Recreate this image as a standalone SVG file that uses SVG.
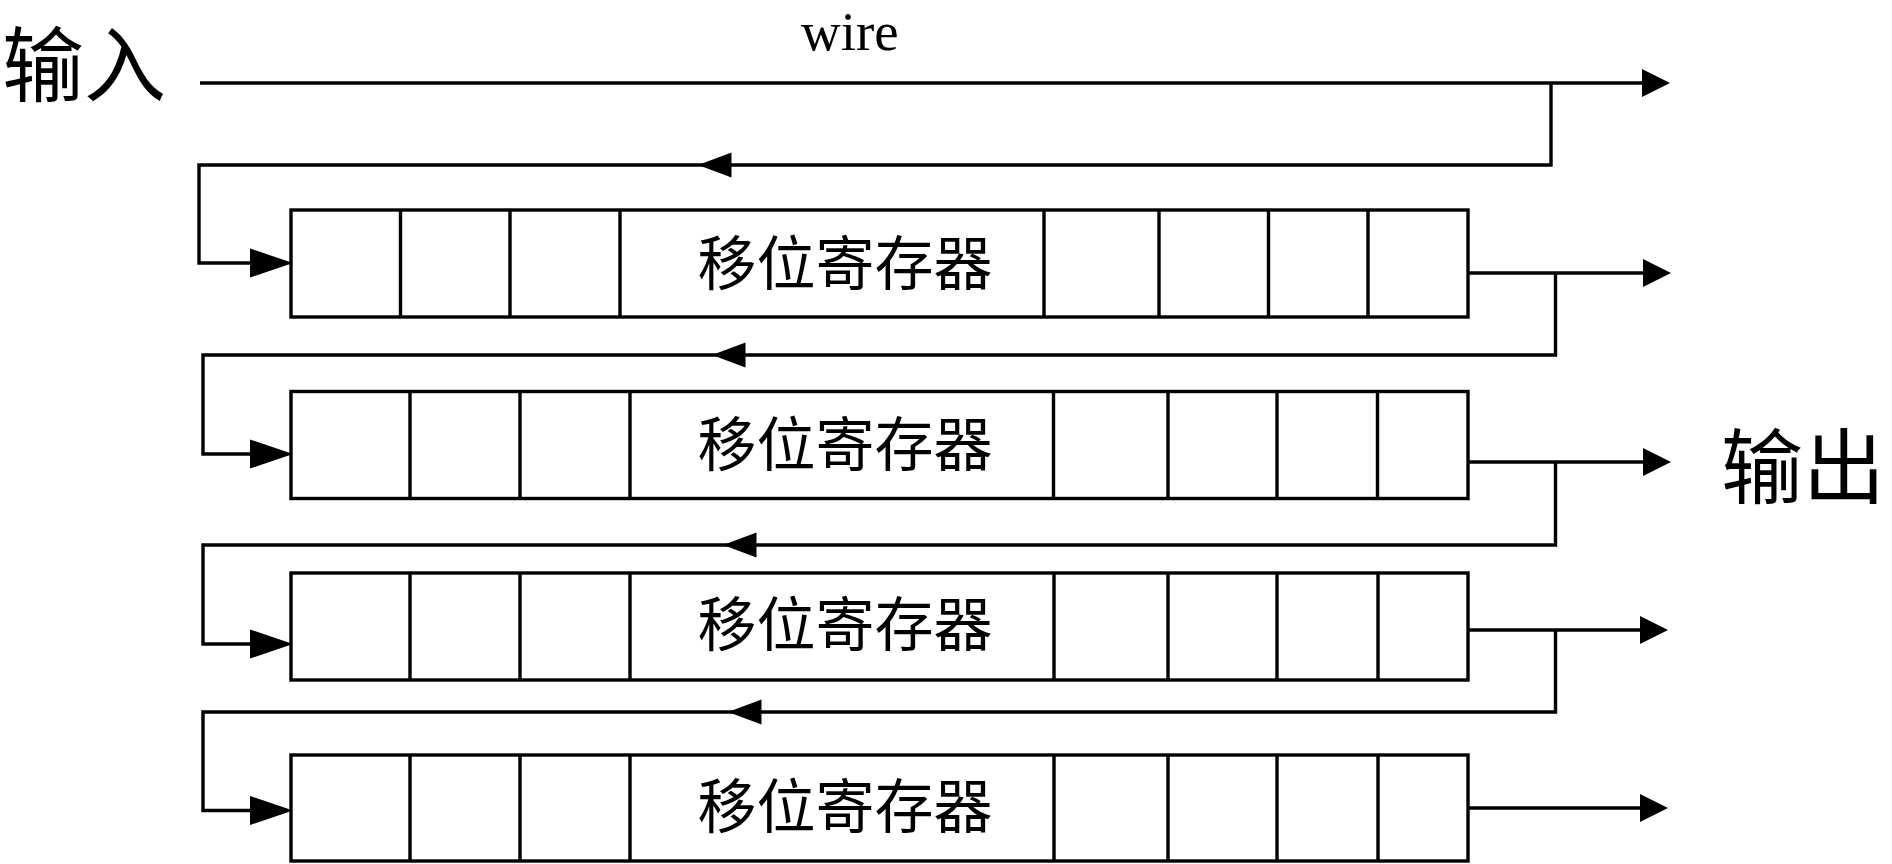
<svg xmlns="http://www.w3.org/2000/svg" xmlns:xlink="http://www.w3.org/1999/xlink" width="1892" height="864" viewBox="0 0 1892 864">
<style>
.box{fill:#fff;stroke:#000;stroke-width:3.4}
.div{stroke:#000;stroke-width:3.4}
.wire{fill:none;stroke:#000;stroke-width:3.4;stroke-linejoin:miter;stroke-linecap:butt}
.ah{fill:#000;stroke:none}
.cjk{font-family:"Noto Sans CJK SC","Noto Sans CJK JP",sans-serif;fill:#000}
.reg{font-size:59px;text-anchor:middle}
.io{font-size:82px}
.lat{font-family:"Liberation Serif","Times New Roman",serif;font-size:55px;fill:#000}
</style>
<defs>
<polygon id="ahOut" class="ah" points="0,0 -28,-14 -28,14"/>
<polygon id="ahIn" class="ah" points="0,0 -43,-14.5 -43,14.5"/>
<polygon id="ahFb" class="ah" points="0,0 33.5,-12.5 33.5,12.5"/>
</defs>
<rect width="1892" height="864" fill="#fff"/>

<g id="label-input"><text class="cjk io" x="2" y="95">输入</text></g>
<g id="label-wire"><text class="lat" x="801" y="49.5">wire</text></g>
<g id="label-output"><text class="cjk io" x="1721" y="497">输出</text></g>

<g id="reg1">
<rect class="box" x="291" y="210" width="1177" height="107"/>
<path class="div" d="M400.5 210V317M510 210V317M620 210V317M1044 210V317M1159 210V317M1268.5 210V317M1368 210V317"/>
<text class="cjk reg" x="845" y="285">移位寄存器</text>
</g>
<g id="reg2">
<rect class="box" x="291" y="391.5" width="1177" height="107"/>
<path class="div" d="M410 391.5V498.5M520 391.5V498.5M630 391.5V498.5M1053.5 391.5V498.5M1168 391.5V498.5M1277 391.5V498.5M1377.5 391.5V498.5"/>
<text class="cjk reg" x="845" y="466">移位寄存器</text>
</g>
<g id="reg3">
<rect class="box" x="291" y="573" width="1177" height="107"/>
<path class="div" d="M410 573V680M520 573V680M630 573V680M1054 573V680M1168 573V680M1277 573V680M1378 573V680"/>
<text class="cjk reg" x="845" y="646">移位寄存器</text>
</g>
<g id="reg4">
<rect class="box" x="291" y="755" width="1177" height="106"/>
<path class="div" d="M410 755V861M520 755V861M630 755V861M1054 755V861M1168 755V861M1277 755V861M1378 755V861"/>
<text class="cjk reg" x="845" y="828">移位寄存器</text>
</g>

<g id="connectors">
<path class="wire" d="M200 83H1650"/>
<use href="#ahOut" x="1670" y="83"/>
<path class="wire" d="M1551 83V165H199V263H260"/>
<use href="#ahFb" x="698" y="165"/>
<use href="#ahIn" x="293" y="263"/>

<path class="wire" d="M1468 273H1650"/>
<use href="#ahOut" x="1671" y="273"/>
<path class="wire" d="M1555.5 273V355H203V454H260"/>
<use href="#ahFb" x="712" y="355"/>
<use href="#ahIn" x="293" y="454"/>

<path class="wire" d="M1468 462H1650"/>
<use href="#ahOut" x="1671" y="462"/>
<path class="wire" d="M1555.5 462V545H203V644H260"/>
<use href="#ahFb" x="723" y="545"/>
<use href="#ahIn" x="293" y="644"/>

<path class="wire" d="M1468 630H1650"/>
<use href="#ahOut" x="1668" y="630"/>
<path class="wire" d="M1555.5 630V712H203V810.5H260"/>
<use href="#ahFb" x="728" y="712"/>
<use href="#ahIn" x="293" y="810.5"/>

<path class="wire" d="M1468 808H1650"/>
<use href="#ahOut" x="1668" y="808"/>
</g>
</svg>
